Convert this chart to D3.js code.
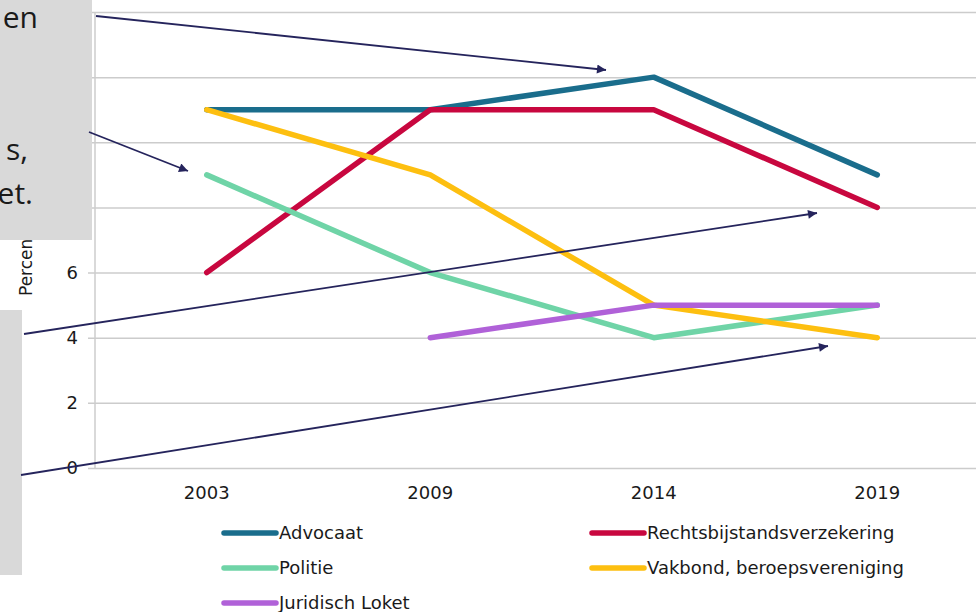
<!DOCTYPE html>
<html>
<head>
<meta charset="utf-8">
<script src="https://d3js.org/d3.v7.min.js"></script>
<style>
  body { margin: 0; background: #fff; }
  svg { display: block; }
</style>
</head>
<body>
<div id="chart"></div>
<script>

// jaren op de x-as
var years = ["2003", "2009", "2014", "2019"];

// percentages per organisatie (null = geen meting)
var advocaat      = [11, 11, 12, 9];
var rechtsbijstand = [6, 11, 11, 8];
var politie       = [9, 6, 4, 5];
var vakbond       = [11, 9, 5, 4];
var juridischLoket = [null, 4, 5, 5];

var seriesNames = ["Advocaat", "Rechtsbijstandsverzekering", "Politie",
                   "Vakbond, beroepsvereniging", "Juridisch Loket"];
var seriesColors = ["#1a6d8c", "#c8073f", "#6fd4a7", "#fdbf10", "#b061d8"];

var yTicks = [0, 2, 4, 6, 8, 10, 12, 14];

var series = [advocaat, rechtsbijstand, politie, vakbond, juridischLoket].map(function(vals, i) {
  return {
    name: seriesNames[i],
    color: seriesColors[i],
    values: years.map(function(y, j) { return {year: y, value: vals[j]}; })
  };
});

var W = 976, H = 612;
var svg = d3.select("#chart").append("svg")
  .attr("width", W)
  .attr("height", H);

var x = d3.scaleBand().domain(years).range([95, 989]).padding(0);
var y = d3.scaleLinear().domain([0, 14]).range([468, 12]);
var xc = function(d) { return x(d) + x.bandwidth() / 2; };

var font = "'DejaVu Sans', Verdana, sans-serif";

// horizontale rasterlijnen + y-as
var yAxis = d3.axisLeft(y).tickValues(yTicks).tickSize(-(989 - 88)).tickPadding(10).tickFormat(d3.format("d"));
var gy = svg.append("g").attr("transform", "translate(95,0)").call(yAxis);
gy.select(".domain").remove();
gy.selectAll(".tick line")
  .attr("x1", -7)
  .attr("x2", 989 - 95)
  .attr("stroke", "#cccccc")
  .attr("stroke-width", 1.5);
gy.selectAll(".tick text")
  .attr("x", -17)
  .attr("font-family", font)
  .attr("font-size", "18px")
  .attr("fill", "#1a1a1a");

svg.append("line")
  .attr("x1", 95).attr("x2", 95)
  .attr("y1", y(14)).attr("y2", y(0))
  .attr("stroke", "#cccccc")
  .attr("stroke-width", 1.5);

// x-as labels
var xAxis = d3.axisBottom(x).tickSize(0).tickPadding(18);
var gx = svg.append("g").attr("transform", "translate(0," + y(0) + ")").call(xAxis);
gx.select(".domain").remove();
gx.selectAll(".tick text")
  .attr("font-family", font)
  .attr("font-size", "18px")
  .attr("fill", "#1a1a1a");

// y-as titel
svg.append("text")
  .attr("transform", "translate(32,296) rotate(-90)")
  .attr("font-family", font)
  .attr("font-size", "17px")
  .attr("fill", "#1a1a1a")
  .text("Percentage");

// lijnen
var line = d3.line()
  .defined(function(d) { return d.value != null; })
  .x(function(d) { return xc(d.year); })
  .y(function(d) { return y(d.value); });

svg.selectAll("path.serie")
  .data(series)
  .enter().append("path")
  .attr("class", "serie")
  .attr("d", function(d) { return line(d.values); })
  .attr("fill", "none")
  .attr("stroke", function(d) { return d.color; })
  .attr("stroke-width", 5.5)
  .attr("stroke-linecap", "round")
  .attr("stroke-linejoin", "round");

// legenda
var legend = svg.selectAll("g.leg")
  .data(series)
  .enter().append("g")
  .attr("class", "leg")
  .attr("transform", function(d, i) {
    var col = i % 2, row = Math.floor(i / 2);
    return "translate(" + (col == 0 ? 222 : 590) + "," + (533 + row * 35) + ")";
  });
legend.append("line")
  .attr("x1", 2).attr("x2", 54)
  .attr("stroke", function(d) { return d.color; })
  .attr("stroke-width", 5.5)
  .attr("stroke-linecap", "round");
legend.append("text")
  .attr("x", 57)
  .attr("y", 6)
  .attr("font-family", font)
  .attr("font-size", "18px")
  .attr("fill", "#1a1a1a")
  .text(function(d) { return d.name; });

// grijze tekstvakken van de presentatie
svg.append("rect").attr("x", 0).attr("y", 0).attr("width", 92).attr("height", 240).attr("fill", "#d9d9d9");
svg.append("rect").attr("x", 0).attr("y", 310).attr("width", 22).attr("height", 265).attr("fill", "#d9d9d9");

var calloutText = [
  {t: "en", x: 38, y: 28},
  {t: "s,", x: 28, y: 160},
  {t: "et.", x: 33, y: 204}
];
svg.selectAll("text.callout")
  .data(calloutText)
  .enter().append("text")
  .attr("class", "callout")
  .attr("x", function(d) { return d.x; })
  .attr("y", function(d) { return d.y; })
  .attr("text-anchor", "end")
  .attr("font-family", "'Open Sans', 'Noto Sans', sans-serif")
  .attr("font-size", "30px")
  .attr("fill", "#1a1a1a")
  .text(function(d) { return d.t; });

// pijlen
svg.append("defs").append("marker")
  .attr("id", "arrow")
  .attr("viewBox", "0 0 10 10")
  .attr("refX", 10).attr("refY", 5)
  .attr("markerWidth", 12).attr("markerHeight", 9)
  .attr("markerUnits", "userSpaceOnUse")
  .attr("orient", "auto")
  .append("path")
  .attr("d", "M0,0L10,5L0,10z")
  .attr("fill", "#25245c");

var arrows = [
  [96, 16, 606, 70],
  [89, 132, 188, 171],
  [24, 334, 817, 213],
  [21, 475, 828, 346]
];
svg.selectAll("line.arrow")
  .data(arrows)
  .enter().append("line")
  .attr("class", "arrow")
  .attr("x1", function(d) { return d[0]; })
  .attr("y1", function(d) { return d[1]; })
  .attr("x2", function(d) { return d[2]; })
  .attr("y2", function(d) { return d[3]; })
  .attr("stroke", "#25245c")
  .attr("stroke-width", 1.8)
  .attr("marker-end", "url(#arrow)");

</script>
</body>
</html>
